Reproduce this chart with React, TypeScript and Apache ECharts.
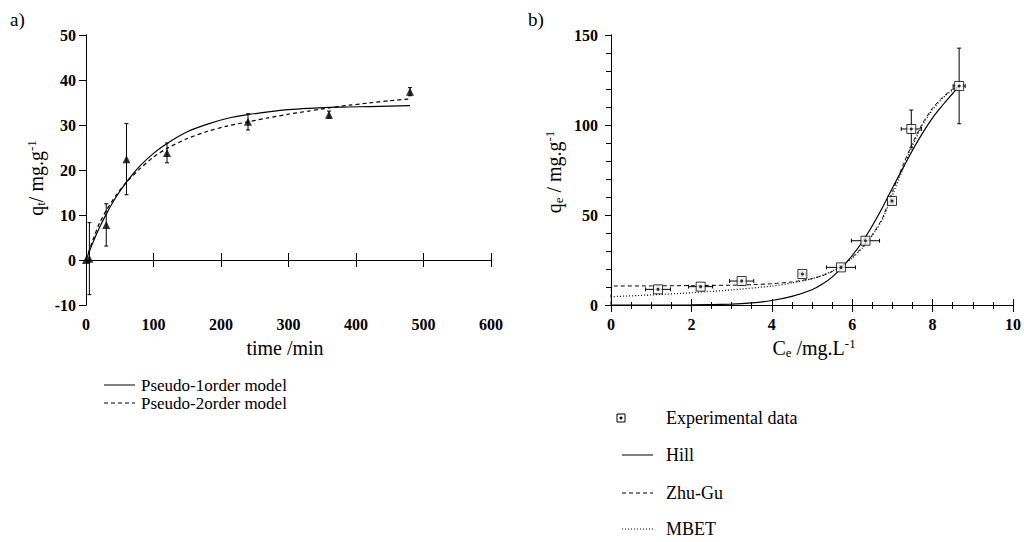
import React, { useEffect, useRef } from "react";
import * as echarts from "echarts";

// ---------- Panel a) kinetics ----------
const timeTicks = [0, 100, 200, 300, 400, 500, 600];
const expTime = [0, 5, 30, 60, 120, 240, 360, 480];
const expQt = [0, 0.3, 7.8, 22.4, 23.8, 30.7, 32.3, 37.4];
const expQtErr = [0, 8.0, 4.7, 7.9, 2.2, 1.8, 0.8, 0.9];

const fitTime = [0, 10, 20, 30, 45, 60, 80, 100, 120, 150, 180, 210, 240, 270, 300, 330, 360, 390, 420, 450, 480];
const pseudo1Q = [0, 3.8, 7.2, 10.2, 14.1, 17.3, 20.9, 23.7, 25.9, 28.5, 30.2, 31.5, 32.3, 32.9, 33.4, 33.7, 33.9, 34.0, 34.1, 34.2, 34.3];
const pseudo2Q = [0, 4.4, 8.2, 11.0, 14.5, 17.3, 20.3, 22.9, 24.8, 27.0, 28.6, 29.8, 30.7, 31.6, 32.4, 33.1, 33.8, 34.4, 34.9, 35.4, 35.8];

// ---------- Panel b) isotherm ----------
const expCe = [1.17, 2.23, 3.25, 4.76, 5.72, 6.33, 6.99, 7.47, 8.66];
const expQe = [8.7, 10.2, 13.3, 17.2, 20.9, 35.7, 57.8, 97.8, 121.7];
const expCeErr = [0.31, 0.3, 0.3, 0.08, 0.36, 0.35, 0.05, 0.25, 0.15];
const expQeErr = [0.8, 0.8, 1.0, 1.2, 1.0, 1.5, 1.5, 10.5, 21];

const hillCe = [0, 1, 2, 3, 3.5, 4, 4.5, 5, 5.25, 5.5, 5.75, 6, 6.25, 6.5, 6.75, 7, 7.25, 7.5, 7.75, 8, 8.25, 8.5, 8.66];
const hillQe = [0, 0, 0.05, 0.5, 1.2, 2.5, 4.8, 8.5, 11.5, 15.5, 21, 27.5, 35, 44, 54, 65, 75.5, 86, 95.5, 104, 111, 117.5, 121.7];
const zhuCe = [0, 0.02, 1, 2, 3, 3.5, 4, 4.5, 5, 5.25, 5.5, 5.75, 6, 6.25, 6.5, 6.75, 7, 7.25, 7.5, 7.75, 8, 8.25, 8.5, 8.66];
const zhuQe = [0, 10.5, 10.6, 10.8, 11, 11.3, 11.8, 12.8, 14.6, 16.2, 18.5, 22, 26.5, 32, 39, 48, 63, 77, 90, 101, 109.5, 115.5, 120, 121.7];
const mbetCe = [0, 1, 2, 3, 4, 4.5, 5, 5.25, 5.5, 5.75, 6, 6.25, 6.5, 6.75, 7, 7.25, 7.5, 7.75, 8, 8.25, 8.5, 8.66];
const mbetQe = [4.6, 5.6, 6.8, 8.4, 10.5, 12.2, 14.6, 16.5, 18.8, 22, 26, 31.5, 38.5, 47.5, 61, 75, 88.5, 100, 108.5, 115, 119.5, 121.7];

const leftLegend = ["Pseudo-1order model", "Pseudo-2order model"];
const rightLegend = ["Experimental data", "Hill", "Zhu-Gu", "MBET"];

const SERIF = "Liberation Serif, Times New Roman, serif";

const zip = (a: number[], b: number[]) => a.map((v, i) => [v, b[i]]);

export default function App() {
  const ref = useRef<HTMLDivElement>(null);

  useEffect(() => {
    if (!ref.current) return;
    const chart = echarts.init(ref.current, null, { renderer: "svg" });

    const tickLabel = { fontFamily: SERIF, fontWeight: "bold" as const, fontSize: 16, color: "#000" };
    const axisLine = { show: true, lineStyle: { color: "#000", width: 1 } };
    const blk = { stroke: "#000", lineWidth: 1 };

    const vErr = (params: any, api: any) => {
      const x = api.value(0), y = api.value(1), e = api.value(2);
      if (!e) return { type: "group", children: [] };
      const t = api.coord([x, y + e]);
      const b = api.coord([x, y - e]);
      const c = 2;
      return {
        type: "group",
        children: [
          { type: "line", shape: { x1: t[0], y1: t[1], x2: b[0], y2: b[1] }, style: blk },
          { type: "line", shape: { x1: t[0] - c, y1: t[1], x2: t[0] + c, y2: t[1] }, style: blk },
          { type: "line", shape: { x1: b[0] - c, y1: b[1], x2: b[0] + c, y2: b[1] }, style: blk },
        ],
      };
    };
    const xyErr = (params: any, api: any) => {
      const x = api.value(0), y = api.value(1), ex = api.value(2), ey = api.value(3);
      const l = api.coord([x - ex, y]);
      const r = api.coord([x + ex, y]);
      const t = api.coord([x, y + ey]);
      const b = api.coord([x, y - ey]);
      const c = 2;
      return {
        type: "group",
        children: [
          { type: "line", shape: { x1: l[0], y1: l[1], x2: r[0], y2: r[1] }, style: blk },
          { type: "line", shape: { x1: l[0], y1: l[1] - c, x2: l[0], y2: l[1] + c }, style: blk },
          { type: "line", shape: { x1: r[0], y1: r[1] - c, x2: r[0], y2: r[1] + c }, style: blk },
          { type: "line", shape: { x1: t[0], y1: t[1], x2: b[0], y2: b[1] }, style: blk },
          { type: "line", shape: { x1: t[0] - c, y1: t[1], x2: t[0] + c, y2: t[1] }, style: blk },
          { type: "line", shape: { x1: b[0] - c, y1: b[1], x2: b[0] + c, y2: b[1] }, style: blk },
        ],
      };
    };

    const richBase = {
      n: { fontFamily: SERIF, fontSize: 20, fill: "#000", color: "#000" },
      sub: { fontFamily: SERIF, fontSize: 13, fill: "#000", color: "#000", padding: [9, 0, 0, 0] },
      sup: { fontFamily: SERIF, fontSize: 13, fill: "#000", color: "#000", padding: [0, 0, 10, 0] },
    };

    const legendText = (x: number, y: number, s: string, size: number) => ({
      type: "text",
      x,
      y,
      style: { text: s, fontFamily: SERIF, fontSize: size, fill: "#000", verticalAlign: "middle", align: "left" },
    });
    const legendLine = (x: number, y: number, dash: number[] | null) => ({
      type: "line",
      shape: { x1: x, y1: y, x2: x + 31, y2: y },
      style: { stroke: "#000", lineWidth: 1, lineDash: dash || undefined },
    });

    const option: any = {
      animation: false,
      backgroundColor: "#fff",
      grid: [
        { left: 86, top: 35, width: 405, height: 270 },
        { left: 611, top: 35, width: 404, height: 270 },
      ],
      xAxis: [
        {
          gridIndex: 0, type: "value", min: timeTicks[0], max: timeTicks[timeTicks.length - 1], interval: 100,
          position: "bottom", axisLine, axisTick: { inside: true, length: 7, lineStyle: { color: "#000" } },
          axisLabel: { ...tickLabel, margin: 11 }, splitLine: { show: false },
        },
        {
          gridIndex: 0, type: "value", min: 0, max: 600, interval: 100, position: "top", axisLine,
          axisTick: { inside: true, length: 7, lineStyle: { color: "#000" } }, axisLabel: { show: false }, splitLine: { show: false },
        },
        {
          gridIndex: 1, type: "value", min: 0, max: 10, interval: 2, position: "bottom", axisLine,
          axisTick: { inside: true, length: 6, lineStyle: { color: "#000" } },
          minorTick: { show: true, splitNumber: 4, length: 3, lineStyle: { color: "#000" } },
          axisLabel: { ...tickLabel, margin: 11 }, splitLine: { show: false }, minorSplitLine: { show: false },
        },
        {
          gridIndex: 1, type: "value", min: 0, max: 10, interval: 2, position: "top", axisLine,
          axisTick: { inside: true, length: 7, lineStyle: { color: "#000" } },
          minorTick: { show: true, splitNumber: 4, length: 4, lineStyle: { color: "#000" } },
          axisLabel: { show: false }, splitLine: { show: false },
        },
      ],
      yAxis: [
        {
          gridIndex: 0, type: "value", min: -10, max: 50, interval: 10, position: "left", axisLine,
          axisTick: { inside: false, length: 7, lineStyle: { color: "#000" } },
          axisLabel: { ...tickLabel, margin: 10 }, splitLine: { show: false },
        },
        {
          gridIndex: 0, type: "value", min: -10, max: 50, interval: 10, position: "right", axisLine,
          axisTick: { inside: true, length: 7, lineStyle: { color: "#000" } }, axisLabel: { show: false }, splitLine: { show: false },
        },
        {
          gridIndex: 1, type: "value", min: 0, max: 150, interval: 50, position: "left", axisLine,
          axisTick: { inside: false, length: 6, lineStyle: { color: "#000" } },
          minorTick: { show: true, splitNumber: 5, length: 4, lineStyle: { color: "#000" } },
          axisLabel: { ...tickLabel, margin: 13 }, splitLine: { show: false },
        },
        {
          gridIndex: 1, type: "value", min: 0, max: 150, interval: 50, position: "right", axisLine,
          axisTick: { inside: true, length: 5, lineStyle: { color: "#000" } },
          minorTick: { show: true, splitNumber: 5, length: 5, lineStyle: { color: "#000" } },
          axisLabel: { show: false }, splitLine: { show: false },
        },
      ],
      series: [
        {
          name: leftLegend[0], type: "line", xAxisIndex: 0, yAxisIndex: 0, data: zip(fitTime, pseudo1Q),
          showSymbol: false, smooth: 0.2, lineStyle: { color: "#000", width: 1.2 }, z: 2,
        },
        {
          name: leftLegend[1], type: "line", xAxisIndex: 0, yAxisIndex: 0, data: zip(fitTime, pseudo2Q),
          showSymbol: false, smooth: 0.2, lineStyle: { color: "#000", width: 1.2, type: [4, 3] }, z: 2,
        },
        {
          type: "custom", xAxisIndex: 0, yAxisIndex: 0, renderItem: vErr,
          data: expTime.map((t, i) => [t, expQt[i], expQtErr[i]]), z: 3,
        },
        {
          type: "scatter", xAxisIndex: 0, yAxisIndex: 0, data: zip(expTime, expQt), symbol: "triangle",
          symbolSize: 8, itemStyle: { color: "#000" }, z: 4,
        },
        {
          name: rightLegend[1], type: "line", xAxisIndex: 2, yAxisIndex: 2, data: zip(hillCe, hillQe),
          showSymbol: false, smooth: 0.2, lineStyle: { color: "#000", width: 1.2 }, z: 2,
        },
        {
          name: rightLegend[2], type: "line", xAxisIndex: 2, yAxisIndex: 2, data: zip(zhuCe, zhuQe),
          showSymbol: false, smooth: 0.1, lineStyle: { color: "#000", width: 1, type: [4, 3] }, z: 2,
        },
        {
          name: rightLegend[3], type: "line", xAxisIndex: 2, yAxisIndex: 2, data: zip(mbetCe, mbetQe),
          showSymbol: false, smooth: 0.2, lineStyle: { color: "#000", width: 1.2, type: [1, 2] }, z: 2,
        },
        {
          type: "custom", xAxisIndex: 2, yAxisIndex: 2, renderItem: xyErr,
          data: expCe.map((c, i) => [c, expQe[i], expCeErr[i], expQeErr[i]]), z: 3,
        },
        {
          name: rightLegend[0], type: "scatter", xAxisIndex: 2, yAxisIndex: 2, data: zip(expCe, expQe), symbol: "rect",
          symbolSize: 9, itemStyle: { color: "#fff", borderColor: "#000", borderWidth: 1 }, z: 4,
        },
        {
          type: "scatter", xAxisIndex: 2, yAxisIndex: 2, data: zip(expCe, expQe), symbol: "circle",
          symbolSize: 3, itemStyle: { color: "#000" }, z: 5,
        },
      ],
      graphic: [
        { type: "text", x: 10, y: 19, style: { text: "a)", fontFamily: SERIF, fontSize: 19, fill: "#000", verticalAlign: "middle" } },
        { type: "text", x: 528, y: 19, style: { text: "b)", fontFamily: SERIF, fontSize: 19, fill: "#000", verticalAlign: "middle" } },
        {
          type: "text", x: 285, y: 348,
          style: { text: "{n|time /min}", rich: richBase, align: "center", verticalAlign: "middle", fill: "#000" },
        },
        {
          type: "text", x: 814, y: 348,
          style: { text: "{n|C}{sub|e}{n| /mg.L}{sup|-1}", rich: richBase, align: "center", verticalAlign: "middle", fill: "#000" },
        },
        {
          type: "text", x: 36, y: 178, rotation: Math.PI / 2,
          style: { text: "{n|q}{sub|t}{n|/ mg.g}{sup|-1}", rich: richBase, align: "center", verticalAlign: "middle", fill: "#000" },
        },
        {
          type: "text", x: 554, y: 172, rotation: Math.PI / 2,
          style: { text: "{n|q}{sub|e}{n| / mg.g}{sup|-1}", rich: richBase, align: "center", verticalAlign: "middle", fill: "#000" },
        },
        // left legend
        legendLine(104, 385, null),
        legendText(141, 385, leftLegend[0], 17),
        legendLine(104, 403, [4, 3]),
        legendText(141, 403, leftLegend[1], 17),
        // right legend
        { type: "rect", shape: { x: 617, y: 414, width: 8, height: 8 }, style: { fill: "#fff", stroke: "#000", lineWidth: 1 } },
        { type: "circle", shape: { cx: 621, cy: 418, r: 1.5 }, style: { fill: "#000" } },
        legendText(666, 418, rightLegend[0], 18),
        legendLine(622, 455, null),
        legendText(666, 455, rightLegend[1], 18),
        legendLine(622, 493, [4, 3]),
        legendText(666, 493, rightLegend[2], 18),
        legendLine(622, 529, [1, 2]),
        legendText(666, 529, rightLegend[3], 18),
      ],
    };

    chart.setOption(option);
    return () => chart.dispose();
  }, []);

  return (
    <div
      ref={ref}
      style={{ position: "fixed", left: 0, top: 0, width: 1024, height: 542, background: "#fff" }}
    />
  );
}
